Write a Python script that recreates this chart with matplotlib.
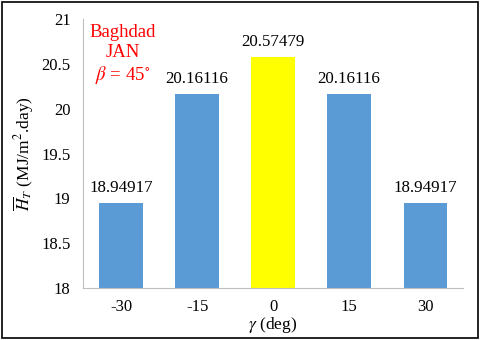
import matplotlib.pyplot as plt
from matplotlib.patches import Rectangle

gamma = ['-30', '-15', '0', '15', '30']
HT = [18.94917, 20.16116, 20.57479, 20.16116, 18.94917]
colors = ['#5b9bd5', '#5b9bd5', '#ffff00', '#5b9bd5', '#5b9bd5']

plt.rcParams['font.family'] = ['Liberation Serif', 'DejaVu Serif']
plt.rcParams['mathtext.fontset'] = 'stix'

fig = plt.figure(figsize=(4.8, 3.4), dpi=100)
ax = fig.add_axes([0.173, 0.153, 0.792, 0.791])

x = range(len(gamma))
ax.bar(x, [h - 18 for h in HT], bottom=18, width=0.57, color=colors)
for i, h in enumerate(HT):
    ax.text(i, h + 0.08, '%.5f' % h, ha='center', va='bottom', fontsize=12.2)

ax.set_xlim(-0.5, 4.5)
ax.set_ylim(18, 21)
ax.set_yticks([18, 18.5, 19, 19.5, 20, 20.5, 21])
ax.set_yticklabels(['18', '18.5', '19', '19.5', '20', '20.5', '21'])
ax.set_xticks(list(x))
ax.set_xticklabels(gamma)
ax.tick_params(length=0, labelsize=12, pad=9)
ax.tick_params(axis='x', pad=8)
for s in ['top', 'right']:
    ax.spines[s].set_visible(False)
for s in ['left', 'bottom']:
    ax.spines[s].set_color('#bfbfbf')

ax.set_ylabel(r'$\overline{H}_T$ (MJ/m$^2$.day)', fontsize=12.5)
ax.yaxis.set_label_coords(-0.125, 0.5)
ax.set_xlabel(r'$\gamma$ (deg)', fontsize=12.5, labelpad=0)

ax.text(0.02, 20.94, 'Baghdad\nJAN\n' + r'$\beta$ = 45$^{\circ}$', color='red',
        ha='center', va='top', fontsize=13.5, linespacing=1.2)

fig.patches.append(Rectangle((0.004, 0.006), 0.992, 0.988, transform=fig.transFigure,
                             fill=False, edgecolor='black', linewidth=1.2))

fig.savefig('out.png', dpi=100)
